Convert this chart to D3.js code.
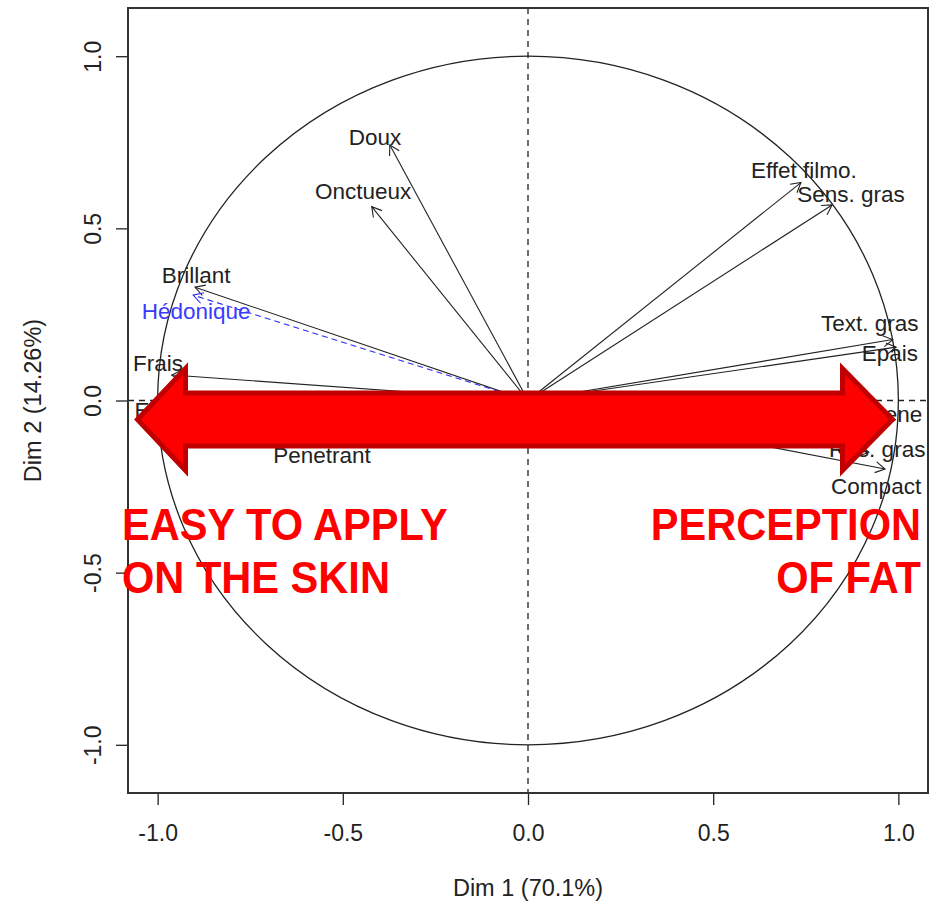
<!DOCTYPE html>
<html>
<head>
<meta charset="utf-8">
<script src="https://cdn.jsdelivr.net/npm/d3@7"></script>
<style>
  html, body { margin: 0; padding: 0; background: #fff; }
  svg { display: block; font-family: "Liberation Sans", Arial, sans-serif; }
</style>
</head>
<body>
<svg id="chart" width="940" height="910"></svg>
<script>
// Active variables: coordinates on the first two dimensions (correlations)
const varNames = ["Doux", "Onctueux", "Brillant", "Frais", "Etalement", "Penetrant",
  "Effet filmo.", "Sens. gras", "Text. gras", "Epais", "Homogene", "Res. gras", "Compact"];
const dim1 = [-0.373, -0.422, -0.899, -0.962, -0.970, -0.556,
  0.737, 0.821, 0.985, 0.994, 0.980, 0.920, 0.964];
const dim2 = [0.742, 0.563, 0.329, 0.074, -0.030, -0.115,
  0.633, 0.568, 0.177, 0.155, -0.040, -0.150, -0.199];
// Label anchors (data units), already shifted to avoid overlaps
const labelDim1 = [-0.413, -0.445, -0.896, -0.999, -0.926, -0.556,
  0.745, 0.872, 0.923, 0.977, 0.916, 0.943, 0.940];
const labelDim2 = [0.765, 0.608, 0.365, 0.109, -0.028, -0.158,
  0.669, 0.600, 0.225, 0.138, -0.040, -0.141, -0.249];

// Supplementary variable
const supNames = ["Hédonique"];
const supDim1 = [-0.904];
const supDim2 = [0.306];
const supLabelDim1 = [-0.896];
const supLabelDim2 = [0.260];

const xTicks = [-1, -0.5, 0, 0.5, 1];
const yTicks = [-1, -0.5, 0, 0.5, 1];
const xTitle = "Dim 1 (70.1%)";
const yTitle = "Dim 2 (14.26%)";
const leftNote = ["EASY TO APPLY", "ON THE SKIN"];
const rightNote = ["PERCEPTION", "OF FAT"];

const svg = d3.select("#chart");
const box = { left: 128, right: 928, top: 8, bottom: 793 };
const x = d3.scaleLinear().domain([-1.08, 1.08]).range([box.left, box.right]);
const y = d3.scaleLinear().domain([-1.14, 1.14]).range([box.bottom, box.top]);
const ink = "#222";

// unit circle
svg.append("ellipse")
  .attr("cx", x(0)).attr("cy", y(0))
  .attr("rx", x(1) - x(0)).attr("ry", y(0) - y(1))
  .attr("fill", "none").attr("stroke", ink).attr("stroke-width", 1.3);

// dashed reference lines through the origin
svg.append("line")
  .attr("x1", x(0)).attr("x2", x(0)).attr("y1", box.top).attr("y2", box.bottom)
  .attr("stroke", ink).attr("stroke-width", 1.3).attr("stroke-dasharray", "6,5");
svg.append("line")
  .attr("x1", box.left).attr("x2", box.right).attr("y1", y(0)).attr("y2", y(0))
  .attr("stroke", ink).attr("stroke-width", 1.3).attr("stroke-dasharray", "6,5");

// vectors with open arrowheads
function vector(g, d1, d2, color, dash) {
  const x0 = x(0), y0 = y(0), x1 = x(d1), y1 = y(d2);
  g.append("line").attr("x1", x0).attr("y1", y0).attr("x2", x1).attr("y2", y1)
    .attr("stroke", color).attr("stroke-width", 1.1)
    .attr("stroke-dasharray", dash || null);
  const a = Math.atan2(y1 - y0, x1 - x0), L = 11, s = Math.PI / 6;
  const p = [
    [x1 - L * Math.cos(a - s), y1 - L * Math.sin(a - s)],
    [x1, y1],
    [x1 - L * Math.cos(a + s), y1 - L * Math.sin(a + s)]
  ];
  g.append("path").attr("d", d3.line()(p))
    .attr("fill", "none").attr("stroke", color).attr("stroke-width", 1.1);
}

const gv = svg.append("g");
varNames.forEach((n, i) => vector(gv, dim1[i], dim2[i], ink));
supNames.forEach((n, i) => vector(gv, supDim1[i], supDim2[i], "#2a2aff", "6,4"));

gv.selectAll("text.var").data(varNames).join("text")
  .attr("class", "var")
  .attr("x", (d, i) => x(labelDim1[i]))
  .attr("y", (d, i) => y(labelDim2[i]))
  .attr("dy", "0.36em")
  .attr("text-anchor", "middle")
  .attr("font-size", 22.5)
  .attr("fill", ink)
  .text(d => d);
gv.selectAll("text.sup").data(supNames).join("text")
  .attr("class", "sup")
  .attr("x", (d, i) => x(supLabelDim1[i]))
  .attr("y", (d, i) => y(supLabelDim2[i]))
  .attr("dy", "0.36em")
  .attr("text-anchor", "middle")
  .attr("font-size", 22.5)
  .attr("fill", "#3a3aff")
  .text(d => d);

// axes
const fmt = d => d.toFixed(1);
const ax = svg.append("g").attr("transform", `translate(0,${box.bottom})`)
  .call(d3.axisBottom(x).tickValues(xTicks).tickSize(12).tickPadding(20).tickFormat(fmt));
ax.select(".domain").remove();
ax.selectAll(".tick line").attr("stroke", ink).attr("stroke-width", 1.3);
ax.selectAll(".tick text").attr("font-size", 23).attr("fill", ink)
  .attr("font-family", "Liberation Sans, Arial, sans-serif");

const ay = svg.append("g").attr("transform", `translate(${box.left},0)`)
  .call(d3.axisLeft(y).tickValues(yTicks).tickSize(12).tickFormat(fmt));
ay.select(".domain").remove();
ay.selectAll(".tick line").attr("stroke", ink).attr("stroke-width", 1.3);
ay.selectAll(".tick text")
  .attr("x", 0).attr("y", -35).attr("dy", "0.35em")
  .attr("transform", "rotate(-90)")
  .attr("text-anchor", "middle")
  .attr("font-size", 23).attr("fill", ink)
  .attr("font-family", "Liberation Sans, Arial, sans-serif");

// plot frame
svg.append("rect")
  .attr("x", box.left).attr("y", box.top)
  .attr("width", box.right - box.left).attr("height", box.bottom - box.top)
  .attr("fill", "none").attr("stroke", "#333").attr("stroke-width", 2);

// axis titles
svg.append("text").attr("x", x(0)).attr("y", 896)
  .attr("text-anchor", "middle").attr("font-size", 23.5).attr("fill", ink)
  .text(xTitle);
svg.append("text")
  .attr("transform", `translate(41,${y(0)}) rotate(-90)`)
  .attr("text-anchor", "middle").attr("font-size", 23.5).attr("fill", ink)
  .text(yTitle);

// red double-headed arrow across the first dimension
const cy = 419.5, headL = 137.5, baseL = 185.5, baseR = 842.5, headR = 892.5;
const hh = 51, bh = 26.5;
const arrowPts = [
  [headL, cy], [baseL, cy - hh], [baseL, cy - bh], [baseR, cy - bh], [baseR, cy - hh],
  [headR, cy], [baseR, cy + hh], [baseR, cy + bh], [baseL, cy + bh], [baseL, cy + hh]
];
svg.append("path")
  .attr("d", d3.line()(arrowPts) + "Z")
  .attr("fill", "#ff0000").attr("stroke", "#c00000").attr("stroke-width", 5)
  .attr("stroke-linejoin", "miter");

// annotations (bold, slightly condensed)
const noteG = svg.append("g").attr("fill", "#ff0000").attr("font-weight", "bold")
  .attr("font-size", 44);
leftNote.forEach((t, i) => noteG.append("text")
  .attr("transform", `translate(122,${540 + i * 53}) scale(0.945,1)`)
  .attr("text-anchor", "start").text(t));
rightNote.forEach((t, i) => noteG.append("text")
  .attr("transform", `translate(921,${540 + i * 53}) scale(0.945,1)`)
  .attr("text-anchor", "end").text(t));
</script>
</body>
</html>
